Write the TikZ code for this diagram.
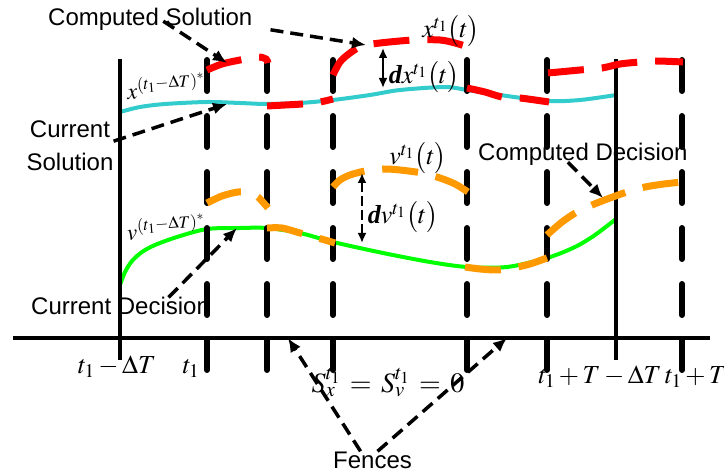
\documentclass[tikz,border=0pt]{standalone}
\usepackage{amsmath}
\usepackage{mathptmx}
\usepackage[no-math]{fontspec}
\setmainfont{Liberation Sans}
\newfontfamily\bdserif{Liberation Serif}
\usetikzlibrary{arrows.meta}

\definecolor{solred}{RGB}{255,0,0}
\definecolor{solcyan}{RGB}{51,204,204}
\definecolor{decorange}{RGB}{255,153,0}
\definecolor{decgreen}{RGB}{0,255,0}
\newcommand{\bd}{\text{\bdserif\bfseries\itshape d}}

\begin{document}
\begin{tikzpicture}[x=1pt, y=-1pt,
  lbl/.style={inner sep=0pt, font=\fontsize{24}{33}\selectfont},
  mth/.style={inner sep=0pt, font=\fontsize{26}{30}\selectfont},
  fence/.style={line width=6pt, line cap=round, dash pattern=on 31pt off 25pt},
  bound/.style={line width=3.5pt},
  ptr/.style={-{Latex[length=14pt,width=12pt]}, line width=3.5pt, dash pattern=on 13pt off 7pt},
  gapline/.style={{Latex[length=10pt,width=9pt]}-{Latex[length=10pt,width=9pt]}, line width=2.5pt},
  oldx/.style={solcyan, line width=4pt},
  oldv/.style={decgreen, line width=4pt},
  newx/.style={solred, line width=7pt, dash pattern=on 36pt off 18pt},
  newv/.style={decorange, line width=7pt, dash pattern=on 36pt off 18pt}]

\useasboundingbox (0,0) rectangle (724,473);

% solution and decision from the previous horizon
\draw[oldx] plot[smooth] coordinates {(120,112) (140,107) (165,104) (207,102) (240,103)
  (267,104) (300,103) (333,100) (370,95) (400,90) (445,87) (467,90) (500,95) (547,101)
  (580,100) (616,95)};
\draw[oldv] plot[smooth] coordinates {(120,285) (125,272) (132,261) (142,252) (155,245)
  (177,237) (207,229) (240,228) (267,228) (300,233) (333,242) (383,253) (430,262)
  (467,267) (507,267) (547,258) (575,247) (595,235) (616,219)};

% time axis, horizon bounds and fences
\draw[line width=4pt] (13,338) -- (710,338);
\draw[bound] (120,59) -- (120,360);
\draw[bound] (616,59) -- (616,360);
\foreach \xf in {207,267,333,467,547,682}
  \draw[fence] (\xf,60) -- (\xf,370);

% computed solution x^{t1}
\draw[newx] plot[smooth] coordinates {(207,70) (222,64) (240,60) (258,57) (266,59) (268,63)};
\draw[newx] plot[smooth] coordinates {(267,106) (285,105) (302,104) (320,102) (333,99)};
\draw[newx] plot[smooth] coordinates {(333,75) (340,62) (350,53) (362,46) (380,43) (413,40)
  (440,40) (455,43) (468,47)};
\draw[newx] plot[smooth] coordinates {(467,88) (485,92) (502,97) (520,98) (549,102)};
\draw[newx] plot[smooth] coordinates {(548,73) (580,70) (602,68) (620,64) (640,62) (657,61) (683,62)};

% computed decision v^{t1}
\draw[newv] plot[smooth] coordinates {(207,203) (222,196) (238,192) (250,193) (258,197) (268,208)};
\draw[newv] plot[smooth] coordinates {(267,228) (282,228) (300,233) (318,238) (335,243)};
\draw[newv] plot[smooth] coordinates {(333,187) (340,180) (350,175) (365,171) (383,169)
  (400,170) (422,173) (440,178) (455,184) (468,192)};
\draw[newv] plot[smooth] coordinates {(465,267) (480,269) (497,270) (513,268) (530,264) (547,258)};
\draw[newv] plot[smooth] coordinates {(547,235) (562,222) (577,212) (592,205) (610,198)
  (627,192) (645,187) (664,184) (682,182)};

% labels
\node[lbl, anchor=base west] (cs) at (48,26) {Computed Solution};
\node[lbl, align=center, anchor=north] (cso) at (70,121) {Current\\Solution};
\node[lbl, anchor=base west] (cdn) at (31,315) {Current Decision};
\node[lbl, anchor=base west] (cmd) at (478,161) {Computed Decision};
\node[lbl, anchor=base west] (fen) at (333,468) {Fences};

\node[mth] (xt) at (451,31) {$x^{t_1}\bigl(t\bigr)$};
\node[mth] (dxl) at (424,77) {$\bd x^{t_1}\bigl(t\bigr)$};
\node[mth] (vt) at (418,158) {$v^{t_1}\bigl(t\bigr)$};
\node[mth] (dvl) at (403,217) {$\bd v^{t_1}\bigl(t\bigr)$};
\node[mth, font=\fontsize{23}{28}\selectfont, rotate=4] (xst) at (166,86) {$x^{(t_1-\Delta T)^*}$};
\node[mth, font=\fontsize{23}{28}\selectfont, rotate=4] (vst) at (166,227) {$v^{(t_1-\Delta T)^*}$};

\node[mth, anchor=base] (ta) at (117,374) {$t_1-\Delta T$};
\node[mth, anchor=base] (tb) at (191,374) {$t_1$};
\node[mth, font=\fontsize{28}{32}\selectfont, anchor=base] (sx) at (388,393)
  {$S_x^{t_1}\,=\,S_v^{t_1}\,=\,0$};
\node[mth, anchor=base] (tc) at (600,384) {$t_1+T-\Delta T$};
\node[mth, anchor=base] (td) at (696,384) {$t_1+T$};

% arrow targets
\coordinate (csA) at (227,63);
\coordinate (csB) at (366,45);
\coordinate (csoTip) at (227,104);
\coordinate (cdnTip) at (237,228);
\coordinate (cmdTip) at (603,198);
\coordinate (fenL) at (288,338);
\coordinate (fenR) at (507,338);
\coordinate (dxTop) at (383,48);
\coordinate (dxBot) at (383,88);
\coordinate (dvTop) at (362,173);
\coordinate (dvBot) at (362,243);

\draw[ptr] ([xshift=13pt,yshift=10pt]cs.south) -- (csA);
\draw[ptr] ([xshift=18pt,yshift=-10pt]cs.east) -- (csB);
\draw[ptr] ([yshift=5pt]cso.east) -- (csoTip);
\draw[ptr] ([xshift=48pt]cdn.north) -- (cdnTip);
\draw[ptr] ([xshift=-15pt,yshift=4pt]cmd.south) -- (cmdTip);
\draw[ptr] ([xshift=-12pt]fen.north) -- (fenL);
\draw[ptr] ([xshift=5pt]fen.north) -- (fenR);
\draw[gapline] (dxTop) -- (dxBot);
\draw[gapline, dash pattern=on 10pt off 4pt] (dvTop) -- (dvBot);
\end{tikzpicture}
\end{document}
